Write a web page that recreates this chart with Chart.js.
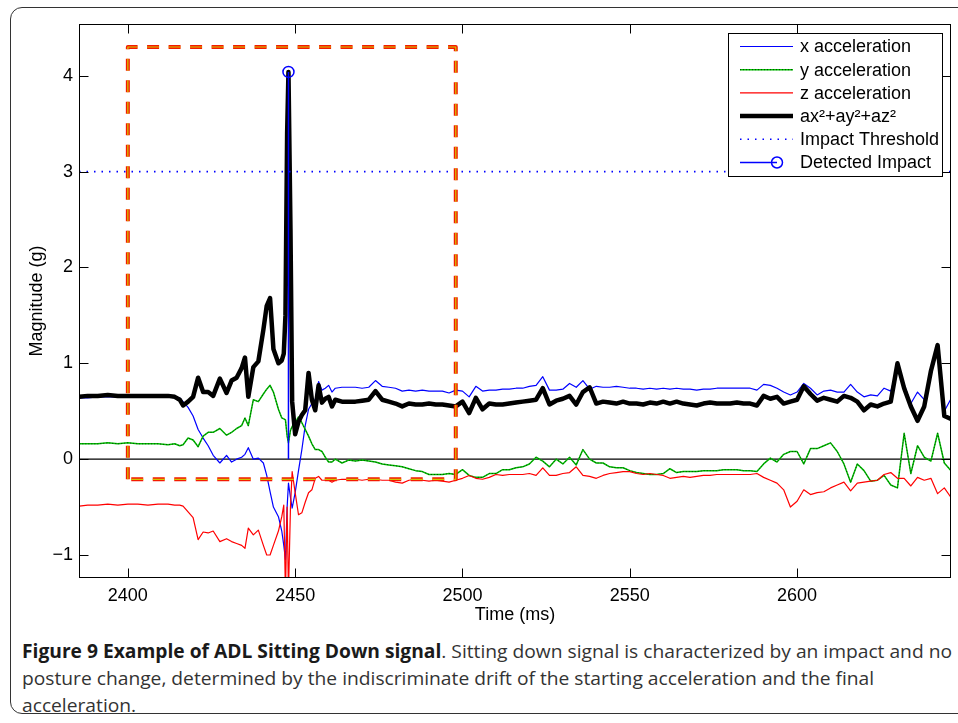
<!DOCTYPE html>
<html>
<head>
<meta charset="utf-8">
<script src="https://cdn.jsdelivr.net/npm/chart.js@4.4.0/dist/chart.umd.min.js"></script>
<style>
  body { margin: 0; background: #fff; width: 958px; height: 723px; overflow: hidden; position: relative; }
  #frame { position: absolute; left: 10px; top: 7px; width: 990px; height: 705px; border: 1.5px solid #333; border-radius: 12px; }
  #wrap { position: absolute; left: 0; top: 0; width: 958px; height: 630px; }
  #caption { position: absolute; left: 22px; top: 638px; font-family: "Liberation Sans Narrow", "Open Sans"; font-size: 19px; line-height: 27px; color: #333; white-space: nowrap; }
  #caption div { transform-origin: left center; }
  #caption b { color: #1a1a1a; }
</style>
</head>
<body>
<div id="frame"></div>
<div id="wrap"><canvas id="chart" width="958" height="630"></canvas></div>
<div id="caption">
  <div class="line"><b>Figure 9 Example of ADL Sitting Down signal</b>. Sitting down signal is characterized by an impact and no</div>
  <div class="line">posture change, determined by the indiscriminate drift of the starting acceleration and the final</div>
  <div class="line">acceleration.</div>
</div>
<script>
// sample times (ms)
const times = [
  2385.5, 2388, 2391, 2394, 2397, 2400, 2403, 2406, 2409, 2412, 2414, 2415.5,
  2416.5, 2418, 2419.5, 2421, 2422.5, 2424, 2425.5, 2427.5, 2429.5, 2431,
  2432.5, 2434, 2435, 2436, 2437.5, 2439, 2440.5, 2441.5, 2442.5, 2443.5,
  2445, 2446, 2446.6, 2447.1, 2447.6, 2448, 2448.6, 2449.1, 2450, 2451,
  2452, 2453, 2454, 2455, 2456, 2457, 2458, 2459, 2460, 2461,
  2462, 2464,
  2466, 2468, 2470, 2472, 2474, 2476, 2478, 2480, 2482, 2484,
  2486, 2488, 2490, 2492, 2494, 2496, 2498, 2500, 2502, 2504,
  2506, 2508, 2510, 2512, 2514, 2516, 2518, 2520, 2522, 2524,
  2526, 2528, 2530, 2532, 2534, 2536, 2538, 2540, 2542, 2544,
  2546, 2548, 2550, 2552, 2554, 2556, 2558, 2560, 2562, 2564,
  2566, 2568, 2570, 2572, 2574, 2576, 2578, 2580, 2582, 2584,
  2586, 2588, 2590, 2592, 2594, 2596, 2598, 2600, 2602, 2604,
  2606, 2608, 2610, 2612, 2614, 2616, 2618, 2620, 2622, 2624,
  2626, 2628, 2630, 2632, 2634, 2636, 2638, 2640, 2642, 2644,
  2646
];

const accX = [
  0.64, 0.64, 0.65, 0.65, 0.65, 0.65, 0.65, 0.65, 0.65, 0.65, 0.65, 0.64,
  0.60, 0.54, 0.45, 0.31, 0.22, 0.14, 0.04, -0.04, 0.04, -0.03,
  0.0, 0.02, 0.05, 0.12, 0.0, 0.01, -0.04, -0.17, -0.34, -0.5,
  -0.6, -0.75, -0.9, -1.05, -0.5, -0.25, -0.4, -0.51, -0.35, -0.12,
  0.1, 0.35, 0.52, 0.58, 0.62, 0.81, 0.72, 0.74, 0.77, 0.70,
  0.74, 0.75,
  0.75, 0.75, 0.74, 0.75, 0.82, 0.76, 0.75, 0.74, 0.71, 0.72,
  0.71, 0.72, 0.71, 0.71, 0.71, 0.69, 0.72, 0.71, 0.65, 0.76,
  0.71, 0.72, 0.72, 0.73, 0.73, 0.74, 0.74, 0.76, 0.77, 0.86,
  0.72, 0.72, 0.73, 0.79, 0.75, 0.82, 0.73, 0.76, 0.75, 0.75,
  0.76, 0.75, 0.74, 0.74, 0.73, 0.74, 0.73, 0.74, 0.73, 0.74,
  0.73, 0.73, 0.72, 0.73, 0.73, 0.74, 0.74, 0.74, 0.74, 0.74,
  0.74, 0.72, 0.78, 0.77, 0.74, 0.70, 0.67, 0.70, 0.79, 0.74,
  0.67, 0.71, 0.72, 0.70, 0.70, 0.78, 0.70, 0.65, 0.67, 0.66,
  0.74, 0.71, 0.95, 0.78, 0.58, 0.70, 0.62, 0.88, 1.17, 0.50,
  0.63
];

const accY = [
  0.16, 0.16, 0.16, 0.17, 0.16, 0.17, 0.16, 0.16, 0.16, 0.15, 0.16, 0.14,
  0.15, 0.22, 0.20, 0.13, 0.24, 0.28, 0.28, 0.32, 0.25, 0.28,
  0.32, 0.35, 0.43, 0.35, 0.62, 0.60, 0.68, 0.73, 0.77, 0.70,
  0.52, 0.43, 0.42, 0.41, 0.24, 0.17, 0.30, 0.34, 0.38, 0.44,
  0.38, 0.31, 0.24, 0.16, 0.10, 0.10, 0.08, 0.02, -0.03, -0.03,
  0.0, -0.04,
  -0.01, -0.02, -0.01, -0.02, -0.03, -0.05, -0.06, -0.07, -0.08, -0.10,
  -0.12, -0.13, -0.16, -0.16, -0.16, -0.15, -0.16, -0.11, -0.17, -0.19,
  -0.19, -0.15, -0.15, -0.11, -0.11, -0.09, -0.08, -0.05, 0.02, -0.02,
  -0.08, 0.0, -0.05, 0.02, -0.06, 0.10, 0.0, -0.04, -0.04, -0.08,
  -0.09, -0.09, -0.12, -0.14, -0.15, -0.16, -0.16, -0.15, -0.10, -0.14,
  -0.13, -0.13, -0.13, -0.12, -0.12, -0.12, -0.11, -0.11, -0.11, -0.12,
  -0.12, -0.13, -0.05, 0.01, -0.03, 0.05, 0.08, 0.08, -0.05, 0.11,
  0.11, 0.14, 0.17, 0.08, -0.05, -0.24, -0.05, -0.12, -0.23, -0.22,
  -0.17, -0.27, -0.30, 0.27, -0.15, 0.14, 0.02, -0.02, 0.27, -0.04,
  -0.12
];

const accZ = [
  -0.49, -0.48, -0.48, -0.47, -0.48, -0.47, -0.47, -0.48, -0.47, -0.47, -0.48, -0.48,
  -0.49, -0.55, -0.61, -0.84, -0.76, -0.77, -0.75, -0.86, -0.83, -0.86,
  -0.88, -0.90, -0.93, -0.72, -0.79, -0.74, -0.90, -1.0, -1.0, -0.9,
  -0.75, -0.6, -0.48, -1.4, -0.5, -1.4, -0.5, -0.13, -0.35, -0.58,
  -0.56, -0.45, -0.35, -0.32, -0.2, -0.18, -0.22, -0.22, -0.22, -0.24,
  -0.22, -0.21,
  -0.21, -0.21, -0.22, -0.21, -0.21, -0.22, -0.22, -0.24, -0.25, -0.22,
  -0.21, -0.22, -0.23, -0.22, -0.23, -0.24, -0.22, -0.20, -0.17, -0.20,
  -0.21, -0.19, -0.16, -0.17, -0.16, -0.16, -0.16, -0.15, -0.17, -0.09,
  -0.17, -0.17, -0.15, -0.14, -0.08, -0.17, -0.18, -0.20, -0.17, -0.15,
  -0.14, -0.13, -0.13, -0.15, -0.16, -0.15, -0.16, -0.17, -0.20, -0.19,
  -0.18, -0.19, -0.18, -0.17, -0.17, -0.16, -0.16, -0.16, -0.16, -0.16,
  -0.16, -0.15, -0.19, -0.22, -0.25, -0.32, -0.50, -0.44, -0.32, -0.37,
  -0.35, -0.34, -0.30, -0.27, -0.24, -0.33, -0.25, -0.24, -0.23, -0.22,
  -0.16, -0.14, -0.20, -0.20, -0.28, -0.19, -0.22, -0.20, -0.36, -0.30,
  -0.40
];

const magnitude = [
  0.65, 0.66, 0.66, 0.67, 0.66, 0.66, 0.66, 0.66, 0.66, 0.66, 0.65, 0.62,
  0.56, 0.60, 0.65, 0.85, 0.70, 0.70, 0.66, 0.84, 0.69, 0.82,
  0.85, 0.95, 1.06, 0.65, 0.96, 1.02, 1.35, 1.60, 1.68, 1.15,
  1.00, 1.03, 1.10, 1.50, 3.40, 4.04, 2.40, 0.60, 0.26, 0.39,
  0.46, 0.51, 0.90, 0.62, 0.51, 0.77, 0.59, 0.63, 0.65, 0.55,
  0.62, 0.60,
  0.60, 0.60, 0.61, 0.62, 0.71, 0.62, 0.60, 0.58, 0.55, 0.58,
  0.57, 0.57, 0.58, 0.57, 0.57, 0.56, 0.55, 0.60, 0.48, 0.64,
  0.52, 0.58, 0.57, 0.57, 0.58, 0.59, 0.60, 0.61, 0.62, 0.74,
  0.57, 0.61, 0.63, 0.66, 0.57, 0.70, 0.75, 0.58, 0.60, 0.59,
  0.58, 0.60, 0.58, 0.58, 0.57, 0.59, 0.58, 0.60, 0.58, 0.60,
  0.58, 0.57, 0.56, 0.58, 0.59, 0.58, 0.58, 0.58, 0.59, 0.58,
  0.58, 0.56, 0.66, 0.63, 0.65, 0.58, 0.60, 0.62, 0.76, 0.68,
  0.61, 0.64, 0.62, 0.60, 0.66, 0.64, 0.60, 0.51, 0.57, 0.55,
  0.58, 0.60, 1.00, 0.74, 0.55, 0.40, 0.55, 0.92, 1.19, 0.45,
  0.42
];

const xTicks = [2400, 2450, 2500, 2550, 2600];
const yTicks = [-1, 0, 1, 2, 3, 4];
const xRange = [2385.4, 2646];
const yRange = [-1.24, 4.54];
const threshold = 3;
const impactTime = 2448;
const impactPeak = 4.04;
const boxTimes = [2400, 2498];
const boxLevels = [-0.21, 4.3];

const FONT = '"Liberation Sans", Arial, sans-serif';

function pts(vals) {
  return times.map((t, i) => ({ x: t, y: vals[i] }));
}

const boxPath = [
  { x: boxTimes[0], y: boxLevels[0] }, { x: boxTimes[0], y: boxLevels[1] },
  { x: boxTimes[1], y: boxLevels[1] }, { x: boxTimes[1], y: boxLevels[0] },
  { x: boxTimes[0], y: boxLevels[0] }
];

// frame box + inward ticks on all four sides
const frameTicks = {
  id: 'frameTicks',
  afterDatasetsDraw(chart) {
    const { ctx, chartArea: a, scales: { x, y } } = chart;
    ctx.save();
    ctx.strokeStyle = '#000';
    ctx.lineWidth = 1;
    ctx.setLineDash([]);
    const L = Math.round(a.left) + 0.5, R = Math.round(a.right) - 0.5;
    const T = Math.round(a.top) + 0.5, B = Math.round(a.bottom) - 0.5;
    ctx.strokeRect(L, T, R - L, B - T);
    ctx.beginPath();
    xTicks.forEach(v => {
      const p = Math.round(x.getPixelForValue(v)) + 0.5;
      ctx.moveTo(p, B); ctx.lineTo(p, B - 9);
      ctx.moveTo(p, T); ctx.lineTo(p, T + 9);
    });
    yTicks.forEach(v => {
      const p = Math.round(y.getPixelForValue(v)) + 0.5;
      ctx.moveTo(L, p); ctx.lineTo(L + 9, p);
      ctx.moveTo(R, p); ctx.lineTo(R - 9, p);
    });
    ctx.stroke();
    ctx.restore();
  }
};

// legend drawn inside the plot, top right
const legendBox = {
  id: 'legendBox',
  afterDraw(chart) {
    const ctx = chart.ctx;
    const items = chart.data.datasets.filter(d => !d.label.startsWith('_'));
    const x0 = 728.5, y0 = 33.5, w = 214, h = 143;
    ctx.save();
    ctx.fillStyle = '#fff';
    ctx.fillRect(x0, y0, w, h);
    ctx.strokeStyle = '#000';
    ctx.lineWidth = 1;
    ctx.setLineDash([]);
    ctx.strokeRect(x0, y0, w, h);
    items.forEach((d, i) => {
      const yy = 46.5 + i * 23.2;
      ctx.strokeStyle = d.borderColor;
      ctx.lineWidth = d.borderWidth;
      ctx.setLineDash(d.borderDash || []);
      ctx.beginPath();
      ctx.moveTo(740, yy);
      ctx.lineTo(d.label === 'Detected Impact' ? 777 : 793, yy);
      ctx.stroke();
      if (d.label === 'y acceleration') {
        ctx.strokeStyle = '#000';
        ctx.lineWidth = 0.7;
        ctx.setLineDash([1, 2]);
        ctx.beginPath(); ctx.moveTo(740, yy); ctx.lineTo(793, yy); ctx.stroke();
      }
      if (d.label === 'Detected Impact') {
        ctx.setLineDash([]);
        ctx.beginPath(); ctx.arc(777, yy, 5.5, 0, Math.PI * 2); ctx.stroke();
      }
      ctx.fillStyle = '#000';
      ctx.font = '18px ' + FONT;
      ctx.textBaseline = 'middle';
      ctx.fillText(d.label, 800, yy + 1);
    });
    ctx.restore();
  }
};

const chart = new Chart(document.getElementById('chart'), {
  type: 'line',
  data: {
    datasets: [
      { label: '_box', data: boxPath, borderColor: '#f41a00', borderWidth: 4, borderDash: [12, 9.5], order: -1 },
      { label: '_boxdots', data: boxPath, borderColor: '#d2c800', borderWidth: 1.2, borderDash: [12, 9.5], order: -2 },
      { label: 'x acceleration', data: pts(accX), borderColor: '#0000ff', borderWidth: 1.2, order: 7 },
      { label: 'y acceleration', data: pts(accY), borderColor: '#00c000', borderWidth: 1.5, order: 6 },
      { label: '_ydots', data: pts(accY), borderColor: '#000', borderWidth: 0.7, borderDash: [1, 2], order: 5 },
      { label: 'z acceleration', data: pts(accZ), borderColor: '#ff0000', borderWidth: 1.2, order: 4 },
      { label: 'ax²+ay²+az²', data: pts(magnitude), borderColor: '#000', borderWidth: 4.5, order: 3 },
      { label: 'Impact Threshold', data: [{ x: xRange[0], y: threshold }, { x: xRange[1], y: threshold }],
        borderColor: '#0000ff', borderWidth: 1.6, borderDash: [1.5, 6], order: 2 },
      { label: 'Detected Impact', data: [{ x: impactTime, y: 0 }, { x: impactTime, y: impactPeak }],
        borderColor: '#0000ff', borderWidth: 1.5, pointRadius: [0, 5.5], pointBorderColor: '#0000ff',
        pointBackgroundColor: 'rgba(0,0,0,0)', pointBorderWidth: 1.5, order: 1 },
      { label: '_zero', data: [{ x: xRange[0], y: 0 }, { x: xRange[1], y: 0 }], borderColor: '#000', borderWidth: 1.3, order: 8 }
    ]
  },
  options: {
    responsive: false,
    animation: false,
    events: [],
    layout: { padding: { top: 24, right: 7, left: 0, bottom: 0 } },
    elements: {
      point: { radius: 0 },
      line: { tension: 0, fill: false, borderJoinStyle: 'round', borderCapStyle: 'butt' }
    },
    plugins: { legend: { display: false }, tooltip: { enabled: false } },
    scales: {
      x: {
        type: 'linear', min: xRange[0], max: xRange[1],
        grid: { display: false, drawTicks: false },
        border: { display: false },
        afterFit: s => { s.height = 52; },
        afterBuildTicks: s => { s.ticks = xTicks.map(v => ({ value: v })); },
        ticks: { color: '#000', padding: 7, maxRotation: 0, font: { family: FONT, size: 18 },
          callback: v => String(v) },
        title: { display: true, text: 'Time (ms)', color: '#000', padding: { top: 0, bottom: 4 }, font: { family: FONT, size: 18 } }
      },
      y: {
        type: 'linear', min: yRange[0], max: yRange[1],
        grid: { display: false, drawTicks: false },
        border: { display: false },
        afterFit: s => { s.width = 79; },
        afterBuildTicks: s => { s.ticks = yTicks.map(v => ({ value: v })); },
        ticks: { color: '#000', padding: 6, font: { family: FONT, size: 18 },
          callback: v => v < 0 ? '\u2212' + Math.abs(v) : String(v) },
        title: { display: true, text: 'Magnitude (g)', color: '#000', padding: { top: 26, bottom: 0 }, font: { family: FONT, size: 18 } }
      }
    }
  },
  plugins: [frameTicks, legendBox]
});

// squeeze caption lines to the width of the original
const lines = document.querySelectorAll('#caption .line');
const k = 930 / lines[0].getBoundingClientRect().width;
lines.forEach(l => { l.style.transform = 'scaleX(' + k + ')'; });
</script>
</body>
</html>
